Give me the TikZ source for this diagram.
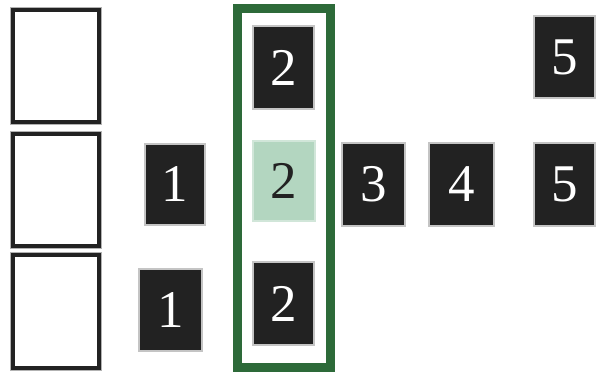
\documentclass[tikz,border=0pt]{standalone}
\usepackage{fontspec}
\setmainfont{Liberation Serif}
\definecolor{tile}{HTML}{222222}
\definecolor{tileedge}{HTML}{C4C4C4}
\definecolor{frameg}{HTML}{2D6A39}
\definecolor{lightg}{HTML}{B3D6C0}
\begin{document}
\begin{tikzpicture}[x=1pt,y=-1pt,
  slot/.style={draw=tile,line width=4pt,fill=white,inner sep=0pt,
    minimum width=86pt,minimum height=112pt,
    preaction={draw=black!30,line width=6pt}},
  tilebox/.style={draw=tileedge,line width=1.5pt,fill=tile,text=white,inner sep=0pt,
    font=\fontsize{53}{53}\selectfont,minimum height=82pt,minimum width=62pt},
  hitile/.style={tilebox,fill=lightg,draw=lightg!60!white,text=tile},
  framebox/.style={draw=frameg,line width=9pt,inner sep=0pt}]
\useasboundingbox (0,0) rectangle (602,374);
% left slots
\node[slot] (s1) at (56,66.5) {};
\node[slot] (s2) at (56,190) {};
\node[slot,minimum height=113pt] (s3) at (56,311.5) {};
% green frame
\node[framebox,minimum width=93pt,minimum height=359pt] (frame) at (284,188) {};
% tiles
\node[tilebox,minimum width=60pt,minimum height=81pt] (a1) at (175,184.5) {1};
\node[tilebox,minimum width=63pt] (a2) at (170.5,310) {1};
\node[tilebox,minimum width=61pt,minimum height=83pt] (b1) at (283.5,67.5) {2};
\node[hitile,minimum width=62pt,minimum height=80pt] (b2) at (284,181) {2};
\node[tilebox,minimum width=61pt,minimum height=83pt] (b3) at (283.5,303.5) {2};
\node[tilebox,minimum width=63pt,minimum height=83pt] (c1) at (373.5,184.5) {3};
\node[tilebox,minimum width=65pt,minimum height=83pt] (d1) at (461.5,184.5) {4};
\node[tilebox,minimum width=61pt,minimum height=82pt] (e1) at (564.5,57) {5};
\node[tilebox,minimum width=61pt,minimum height=83pt] (e2) at (564.5,184.5) {5};
\end{tikzpicture}
\end{document}
